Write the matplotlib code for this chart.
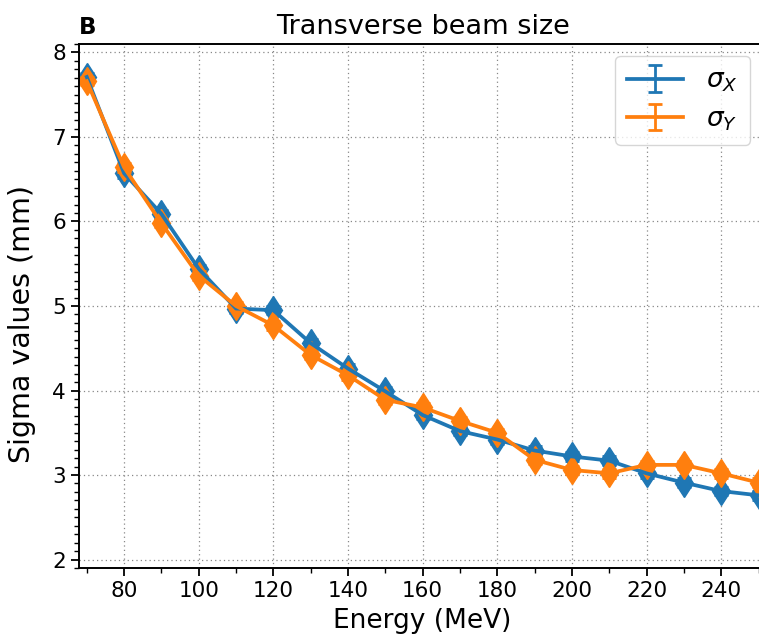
import numpy as np
import matplotlib.pyplot as plt
from matplotlib.ticker import MultipleLocator

# Beam energies (MeV)
energy = [70, 80, 90, 100, 110, 120, 130, 140, 150, 160,
          170, 180, 190, 200, 210, 220, 230, 240, 250]

# Transverse beam sigma (mm)
sigma_x = [7.71, 6.57, 6.09, 5.44, 4.97, 4.95, 4.56, 4.26, 3.99, 3.71,
           3.52, 3.42, 3.29, 3.22, 3.17, 3.02, 2.91, 2.81, 2.76]
sigma_y = [7.66, 6.64, 5.98, 5.36, 5.00, 4.77, 4.42, 4.18, 3.89, 3.80,
           3.64, 3.50, 3.18, 3.06, 3.02, 3.12, 3.12, 3.02, 2.91]

# Error bars are hidden behind the markers
err_x = [0.05] * len(energy)
err_y = [0.05] * len(energy)

W, H = 759, 643
fig = plt.figure(figsize=(W / 100, H / 100), dpi=100)
ax = fig.add_axes([79.3 / W, (H - 568) / H, (766 - 79.3) / W, (568 - 44) / H])

for s, e, c, lab in [(sigma_x, err_x, '#1f77b4', r'$\sigma_X$'),
                     (sigma_y, err_y, '#ff7f0e', r'$\sigma_Y$')]:
    ax.errorbar(energy, s, yerr=e, color=c, lw=2.7, capsize=5,
                elinewidth=2, capthick=2, label=lab)
    ax.plot(energy, s, ls='none', marker='d', ms=14.5, color=c)

ax.set_xlim(68, 252)
ax.set_ylim(1.9, 8.1)
ax.xaxis.set_major_locator(MultipleLocator(20))
ax.xaxis.set_minor_locator(MultipleLocator(10))
ax.yaxis.set_major_locator(MultipleLocator(1))
ax.yaxis.set_minor_locator(MultipleLocator(0.1))
ax.tick_params(which='major', labelsize=15.5, length=6, width=1.3)
ax.tick_params(which='minor', length=3.5, width=1)
ax.grid(True, which='major', ls=(0, (1, 2.5)), color='#888888', lw=0.9)

for s in ['left', 'bottom', 'top']:
    ax.spines[s].set_linewidth(1.4)

ax.set_xlabel('Energy (MeV)', fontsize=19, labelpad=5)
ax.set_ylabel('Sigma values (mm)', fontsize=20.5)
ax.yaxis.set_label_coords(-0.063, 0.465)
ax.set_title('Transverse beam size', fontsize=19.5, pad=7)
ax.set_title('B', loc='left', fontsize=16.5, fontweight='bold', pad=7)

leg = ax.legend(loc='upper right', bbox_to_anchor=(750 / W, 1 - 56 / H),
                bbox_transform=fig.transFigure, fontsize=19,
                borderaxespad=0, handlelength=2.1, borderpad=0.45,
                labelspacing=0.45, handletextpad=0.9)

plt.savefig('out.png', dpi=100)
